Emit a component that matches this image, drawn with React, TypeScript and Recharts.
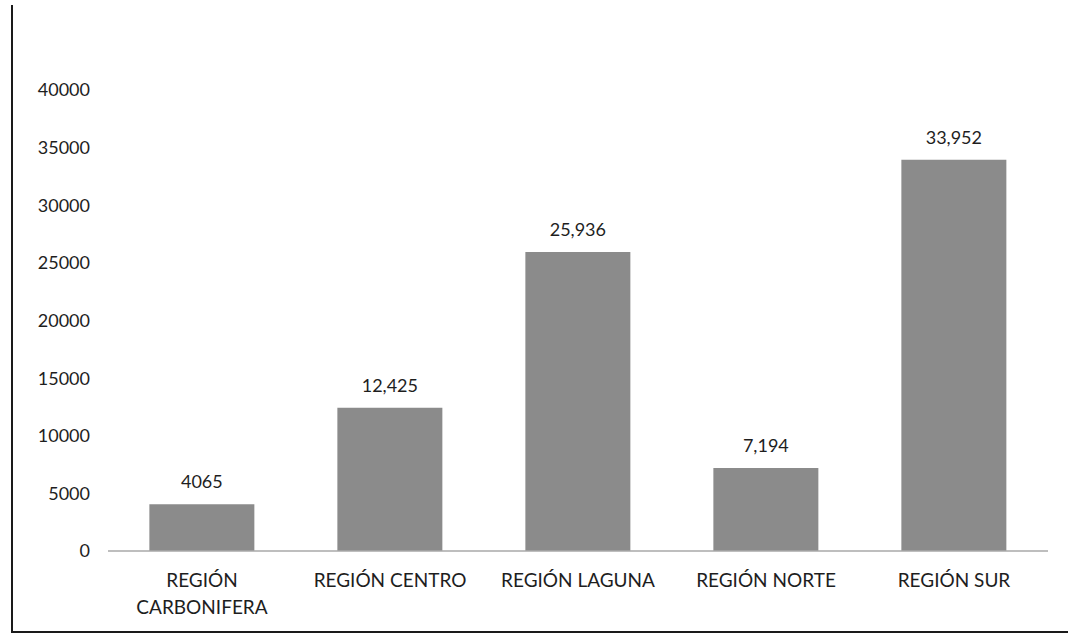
import React from 'react';
import { BarChart, Bar, XAxis, YAxis, LabelList } from 'recharts';

const regions = ['REGIÓN\nCARBONIFERA', 'REGIÓN CENTRO', 'REGIÓN LAGUNA', 'REGIÓN NORTE', 'REGIÓN SUR'];
const totals = [4065, 12425, 25936, 7194, 33952];
const totalLabels = ['4065', '12,425', '25,936', '7,194', '33,952'];
const yTicks = [0, 5000, 10000, 15000, 20000, 25000, 30000, 35000, 40000];

const data = regions.map((region, i) => ({ region, total: totals[i], label: totalLabels[i] }));

const font = 'Lato, "Open Sans", sans-serif';

function RegionTick({ x, y, payload }: any) {
  const lines = String(payload.value).split('\n');
  return (
    <text x={x} y={y} textAnchor="middle" fill="#1e1e1e" fontSize={19} fontFamily={font}>
      {lines.map((line, i) => (
        <tspan key={i} x={x} dy={i === 0 ? 28 : 27}>
          {line}
        </tspan>
      ))}
    </text>
  );
}

export default function App() {
  return (
    <div style={{ position: 'absolute', left: 0, top: 0, width: 1068, height: 639, background: '#fff' }}>
      <div
        style={{
          position: 'absolute',
          left: 11,
          top: 5,
          width: 1057,
          height: 626,
          borderLeft: '2px solid #1a1a1a',
          borderBottom: '2px solid #1a1a1a',
        }}
      />
      <BarChart
        width={1068}
        height={639}
        data={data}
        margin={{ top: 90, right: 20, left: 48, bottom: 0 }}
        barCategoryGap="22%"
        style={{ position: 'absolute', left: 0, top: 0 }}
      >
        <XAxis
          dataKey="region"
          interval={0}
          tickLine={false}
          axisLine={{ stroke: '#a8a8a8', strokeWidth: 1.5 }}
          tick={<RegionTick />}
          height={88}
        />
        <YAxis
          width={60}
          domain={[0, 40000]}
          ticks={yTicks}
          axisLine={false}
          tickLine={false}
          tickMargin={12}
          tick={{ fill: '#1e1e1e', fontSize: 18, fontFamily: font }}
        />
        <Bar dataKey="total" fill="#8b8b8b" isAnimationActive={false}>
          <LabelList dataKey="label" position="top" offset={16} fill="#1e1e1e" fontSize={18} fontFamily={font} />
        </Bar>
      </BarChart>
    </div>
  );
}
